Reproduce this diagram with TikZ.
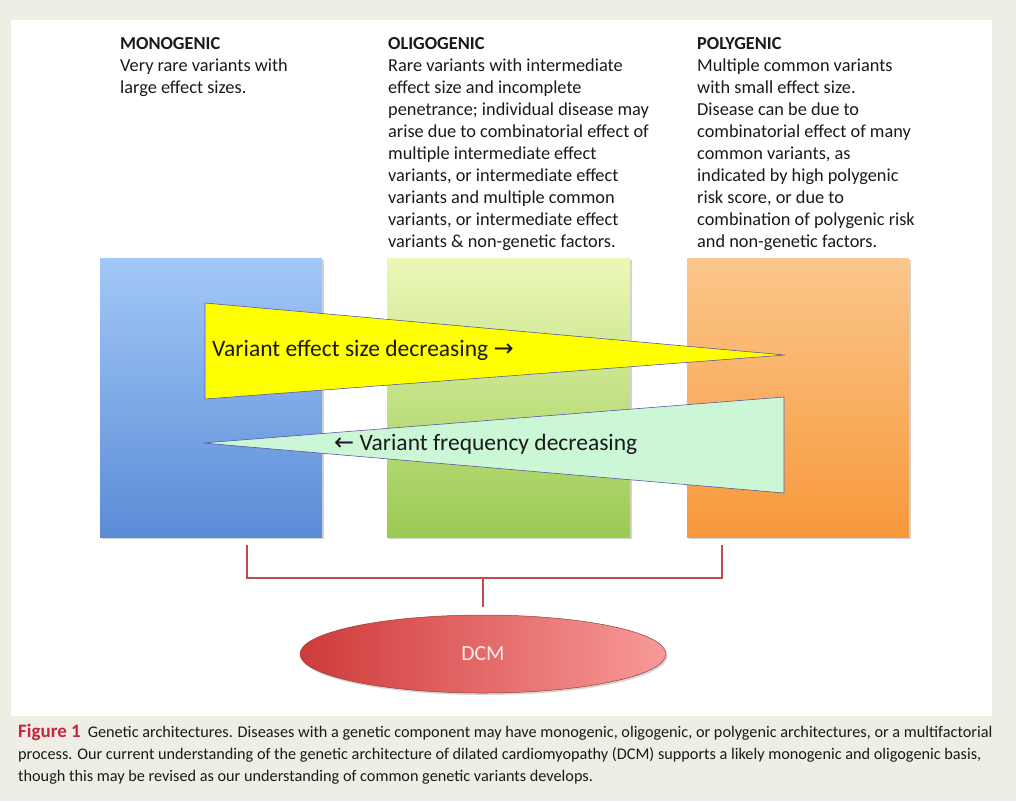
\documentclass[tikz,border=0pt]{standalone}
\usepackage{fontspec}
\setmainfont{Carlito}
\newfontfamily\arrowfont{DejaVu Sans}
\usetikzlibrary{shapes.geometric,shadows}
\definecolor{pagebg}{HTML}{EEEEE4}
\definecolor{blueT}{HTML}{A3C8F8}
\definecolor{blueB}{HTML}{5A8CD6}
\definecolor{greenT}{HTML}{ECF8B8}
\definecolor{greenB}{HTML}{9ACA52}
\definecolor{orangeT}{HTML}{FBC78C}
\definecolor{orangeB}{HTML}{F7983A}
\definecolor{yel}{HTML}{FFFF00}
\definecolor{mint}{HTML}{CCF7D6}
\definecolor{brk}{HTML}{BE4B48}
\definecolor{dcmL}{HTML}{CF3A3A}
\definecolor{dcmM}{HTML}{D33E3E}
\definecolor{dcmR}{HTML}{F79A98}
\definecolor{figred}{HTML}{C7243F}
\definecolor{txt}{HTML}{1A1A1A}
\tikzset{
  colbox/.style={draw=none, inner sep=0pt, minimum width=222pt, minimum height=279pt,
    drop shadow={shadow xshift=1.5pt, shadow yshift=-1.5pt, fill=black!35, opacity=0.5}},
  coltext/.style={anchor=north west, align=left, inner sep=0pt, text=txt,
    font=\fontsize{18.3}{22}\selectfont},
  wedge/.style={draw=gray!70!blue, line width=0.6pt},
  wedgetext/.style={inner sep=0pt, text=txt, font=\fontsize{23.5}{27}\selectfont},
  bracket/.style={draw=brk, line width=2.2pt},
  captext/.style={anchor=base west, inner sep=0pt, text=txt, font=\fontsize{16.25}{22}\selectfont}
}
\newcommand{\rarr}{{\arrowfont\fontsize{24}{27}\selectfont →}}
\newcommand{\larr}{{\arrowfont\fontsize{24}{27}\selectfont ←}}
\begin{document}
\begin{tikzpicture}[x=1pt,y=-1pt]
\useasboundingbox (0,0) rectangle (1016,801);
\fill[pagebg] (0,0) rectangle (1016,801);
\fill[white] (11,20) rectangle (992,716);

% column texts
\node[coltext] (tmono) at (120,37.5) {\textbf{MONOGENIC}\\Very rare variants with\\large effect sizes.};
\node[coltext] (toligo) at (388,37.5) {\textbf{OLIGOGENIC}\\Rare variants with intermediate\\effect size and incomplete\\penetrance; individual disease may\\arise due to combinatorial effect of\\multiple intermediate effect\\variants, or intermediate effect\\variants and multiple common\\variants, or intermediate effect\\variants \& non-genetic factors.};
\node[coltext] (tpoly) at (697,37.5) {\textbf{POLYGENIC}\\Multiple common variants\\with small effect size.\\Disease can be due to\\combinatorial effect of many\\common variants, as\\indicated by high polygenic\\risk score, or due to\\combination of polygenic risk\\and non-genetic factors.};

% column boxes
\node[colbox, top color=blueT, bottom color=blueB] (mono) at (211,397.5) {};
\node[colbox, top color=greenT, bottom color=greenB, minimum width=243pt] (oligo) at (508.5,397.5) {};
\node[colbox, top color=orangeT, bottom color=orangeB] (poly) at (798,397.5) {};

% wedges
\coordinate (y1) at (205,303);
\coordinate (y2) at (785,355);
\coordinate (y3) at (205,399);
\filldraw[wedge, fill=yel] (y1) -- (y2) -- (y3) -- cycle;
\node[wedgetext, anchor=west] (effect) at (212,350) {Variant effect size decreasing \rarr};

\coordinate (g1) at (203,443);
\coordinate (g2) at (784,397);
\coordinate (g3) at (784,493);
\filldraw[wedge, fill=mint] (g1) -- (g2) -- (g3) -- cycle;
\node[wedgetext, anchor=west] (freq) at (334,444) {\larr\ Variant frequency decreasing};

% DCM ellipse
\node[ellipse, minimum width=366pt, minimum height=78pt, inner sep=0pt,
  left color=dcmL, middle color=dcmM, right color=dcmR, draw=brk!80!black, line width=0.5pt,
  drop shadow={shadow xshift=1.5pt, shadow yshift=-2pt, fill=black!40, opacity=0.4},
  text=white!92!red, font=\fontsize{21.5}{24}\selectfont] (dcm) at (483,654) {DCM};

% bracket
\coordinate (bl) at (247,545);
\coordinate (br) at (722,545);
\coordinate (bm) at (dcm.north |- 0,578);
\draw[bracket] (bl) -- (bl |- bm) -- (br |- bm) -- (br);
\draw[bracket] (bm) -- ([yshift=8pt]dcm.north);

% caption
\node[captext] (cap1) at (18,737) {{\fontsize{19}{22}\selectfont\bfseries\color{figred}Figure 1}\hspace{7pt}Genetic architectures. Diseases with a genetic component may have monogenic, oligogenic, or polygenic architectures, or a multifactorial};
\node[captext] (cap2) at (18,759) {process. Our current understanding of the genetic architecture of dilated cardiomyopathy (DCM) supports a likely monogenic and oligogenic basis,};
\node[captext] (cap3) at (18,781) {though this may be revised as our understanding of common genetic variants develops.};
\end{tikzpicture}
\end{document}
